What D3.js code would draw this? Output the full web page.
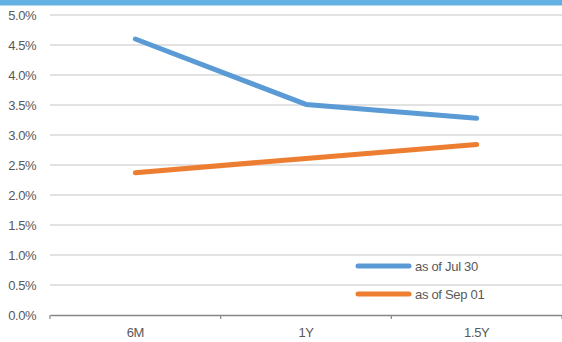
<!DOCTYPE html>
<html>
<head>
<meta charset="utf-8">
<script src="https://cdn.jsdelivr.net/npm/d3@7"></script>
<style>
  body { margin: 0; background: #fff; }
  text { font-family: "Liberation Sans", Arial, sans-serif; fill: #595959; }
</style>
</head>
<body>
<div id="chart"></div>
<script>
// chart data
const tenors = ["6M", "1Y", "1.5Y"];
const seriesNames = ["as of Jul 30", "as of Sep 01"];
const julValues = [4.60, 3.51, 3.28];
const sepValues = [2.37, 2.61, 2.84];
const colors = ["#5b9bd5", "#ed7d31"];
const yTicks = [0, 0.5, 1, 1.5, 2, 2.5, 3, 3.5, 4, 4.5, 5];

const width = 562, height = 342;
const margin = { top: 15, right: 0, bottom: 27, left: 50 };
const innerW = width - margin.left - margin.right;
const innerH = height - margin.top - margin.bottom;

const svg = d3.select("#chart").append("svg")
  .attr("width", width)
  .attr("height", height);

// header strip at the top
svg.append("rect")
  .attr("x", 0).attr("y", 0)
  .attr("width", width).attr("height", 5.5)
  .attr("fill", "#62b1e3");

const g = svg.append("g")
  .attr("transform", `translate(${margin.left},${margin.top})`);

const x = d3.scaleBand().domain(tenors).range([0, innerW]);
const y = d3.scaleLinear().domain([0, 5]).range([innerH, 0]);

// gridlines
g.append("g")
  .selectAll("line")
  .data(yTicks.filter(d => d > 0))
  .join("line")
  .attr("x1", 0).attr("x2", innerW)
  .attr("y1", d => y(d)).attr("y2", d => y(d))
  .attr("stroke", "#d9d9d9")
  .attr("stroke-width", 1.5);

// y labels
g.append("g")
  .selectAll("text")
  .data(yTicks)
  .join("text")
  .attr("x", -14)
  .attr("y", d => y(d) + 5)
  .attr("text-anchor", "end")
  .attr("font-size", 13)
  .attr("letter-spacing", -0.5)
  .text(d => d.toFixed(1) + "%");

// x axis
const xAxis = g.append("g")
  .attr("transform", `translate(0,${innerH})`)
  .call(d3.axisBottom(x).tickSize(0).tickPadding(13));
xAxis.select(".domain").attr("stroke", "#868686").attr("stroke-width", 1.5);
xAxis.selectAll("text")
  .attr("font-size", 13)
  .attr("fill", "#595959")
  .attr("font-family", "Liberation Sans, Arial, sans-serif")
  .attr("letter-spacing", -0.4);

// category boundary ticks
const bounds = tenors.map(t => x(t)).concat([innerW]);
xAxis.selectAll(".bound")
  .data(bounds)
  .join("line")
  .attr("class", "bound")
  .attr("x1", d => d).attr("x2", d => d)
  .attr("y1", 0).attr("y2", 4)
  .attr("stroke", "#868686")
  .attr("stroke-width", 1.2);

// lines
const line = d3.line()
  .x((d, i) => x(tenors[i]) + x.bandwidth() / 2)
  .y(d => y(d));

[julValues, sepValues].forEach((vals, i) => {
  g.append("path")
    .datum(vals)
    .attr("d", line)
    .attr("fill", "none")
    .attr("stroke", colors[i])
    .attr("stroke-width", 5)
    .attr("stroke-linecap", "round")
    .attr("stroke-linejoin", "round");
});

// legend
const legend = svg.append("g").attr("transform", "translate(358,266)");
seriesNames.forEach((name, i) => {
  const row = legend.append("g").attr("transform", `translate(0,${i * 28})`);
  row.append("line")
    .attr("x1", 0).attr("x2", 51)
    .attr("y1", 0).attr("y2", 0)
    .attr("stroke", colors[i])
    .attr("stroke-width", 5)
    .attr("stroke-linecap", "round");
  row.append("text")
    .attr("x", 57)
    .attr("y", 5)
    .attr("font-size", 13)
    .attr("letter-spacing", -0.3)
    .text(name);
});
</script>
</body>
</html>
